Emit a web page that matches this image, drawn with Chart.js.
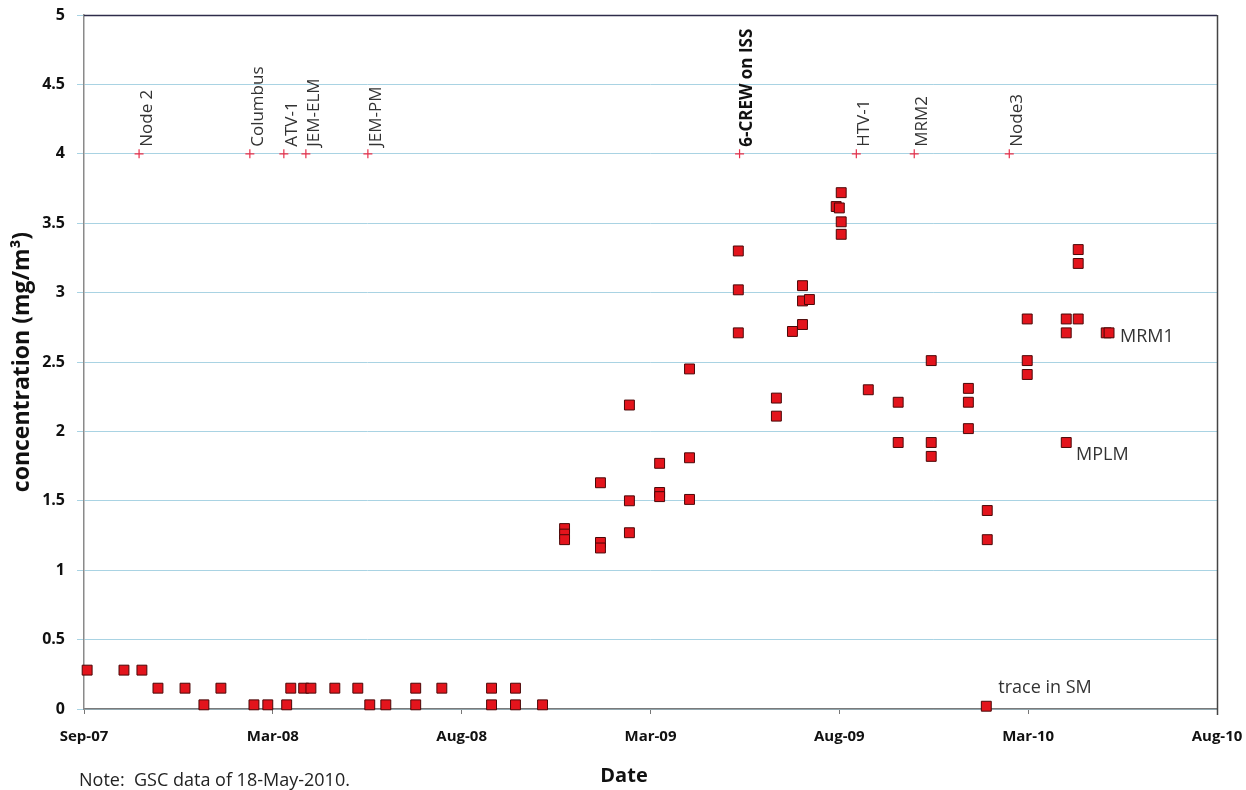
<!DOCTYPE html>
<html><head><meta charset="utf-8">
<script src="https://cdn.jsdelivr.net/npm/chart.js@4/dist/chart.umd.min.js"></script>
<style>html,body{margin:0;padding:0;background:#fff}</style>
</head><body>
<canvas id="c" width="1246" height="790"></canvas>
<script>
// x values: months after Sep-07 (axis ticks every 6 units)
const tickLabels = ['Sep-07','Mar-08','Aug-08','Mar-09','Aug-09','Mar-10','Aug-10'];

const sampleMonths = [
  0.10, 1.27, 1.84,
  2.35, 3.21, 4.35, 6.57, 6.98, 7.21, 7.97, 8.70, 10.54, 11.37, 12.95, 13.71,
  3.81, 5.40, 5.84, 6.44, 9.08, 9.59, 10.54, 12.95, 13.71, 14.57,
  15.27, 15.27, 15.27,
  16.41, 16.41, 16.41,
  17.33, 17.33, 17.33,
  18.29, 18.29, 18.29,
  19.24, 19.24, 19.24,
  20.79, 20.79, 20.79,
  22.00, 22.00,
  22.51,
  22.83, 22.83, 22.83,
  23.05,
  23.90, 24.00,
  24.06, 24.06, 24.06,
  24.92,
  25.87, 25.87,
  26.92, 26.92, 26.92,
  28.10, 28.10, 28.10,
  28.70, 28.70,
  28.67,
  29.97, 29.97, 29.97,
  31.21, 31.21, 31.21,
  31.59, 31.59, 31.59,
  32.48, 32.57
];
const sampleConc = [
  0.28, 0.28, 0.28,
  0.15, 0.15, 0.15, 0.15, 0.15, 0.15, 0.15, 0.15, 0.15, 0.15, 0.15, 0.15,
  0.03, 0.03, 0.03, 0.03, 0.03, 0.03, 0.03, 0.03, 0.03, 0.03,
  1.30, 1.26, 1.22,
  1.63, 1.20, 1.16,
  2.19, 1.50, 1.27,
  1.77, 1.56, 1.53,
  2.45, 1.81, 1.51,
  3.30, 3.02, 2.71,
  2.24, 2.11,
  2.72,
  3.05, 2.94, 2.77,
  2.95,
  3.62, 3.61,
  3.72, 3.51, 3.42,
  2.30,
  2.21, 1.92,
  2.51, 1.92, 1.82,
  2.31, 2.21, 2.02,
  1.43, 1.22,
  0.02,
  2.81, 2.51, 2.41,
  2.81, 2.71, 1.92,
  3.31, 3.21, 2.81,
  2.71, 2.71
];

const eventNames = ['Node 2','Columbus','ATV-1','JEM-ELM','JEM-PM','6-CREW on ISS','HTV-1','MRM2','Node3'];
const eventMonths = [1.75, 5.27, 6.35, 7.05, 9.02, 20.83, 24.54, 26.38, 29.40];
const eventLevel = [4, 4, 4, 4, 4, 4, 4, 4, 4];
const highlightedEvent = '6-CREW on ISS';

const noteTexts = ['MRM1', 'MPLM', 'trace in SM'];
const noteMonths = [32.92, 31.52, 29.05];
const noteConc = [2.68, 1.83, 0.15];

const FONT = "'Open Sans', 'Liberation Sans', sans-serif";

const decor = {
  id: 'decor',
  afterDatasetsDraw(chart) {
    const ctx = chart.ctx, a = chart.chartArea;
    const xs = chart.scales.x, ys = chart.scales.y;
    ctx.save();
    // frame: top and right
    ctx.lineWidth = 1.5;
    ctx.strokeStyle = '#2e2c4a';
    ctx.beginPath(); ctx.moveTo(a.left, a.top + 0.5); ctx.lineTo(a.right, a.top + 0.5); ctx.stroke();
    ctx.strokeStyle = '#444';
    ctx.beginPath(); ctx.moveTo(a.right + 0.5, a.top); ctx.lineTo(a.right + 0.5, a.bottom + 6); ctx.stroke();

    // event labels
    ctx.textAlign = 'left';
    ctx.textBaseline = 'middle';
    eventNames.forEach((name, i) => {
      const px = xs.getPixelForValue(eventMonths[i]);
      const py = ys.getPixelForValue(eventLevel[i]);
      ctx.save();
      ctx.translate(px + 8, py - 7);
      ctx.rotate(-Math.PI / 2);
      ctx.font = (name === highlightedEvent ? 'bold ' : '') + '17px ' + FONT;
      ctx.fillStyle = name === highlightedEvent ? '#111' : '#333';
      ctx.fillText(name, 0, 0);
      ctx.restore();
    });

    // point annotations
    ctx.font = '18px ' + FONT;
    ctx.fillStyle = '#333';
    noteTexts.forEach((t, i) => {
      ctx.fillText(t, xs.getPixelForValue(noteMonths[i]), ys.getPixelForValue(noteConc[i]));
    });

    // axis titles
    ctx.fillStyle = '#111';
    ctx.font = 'bold 23px ' + FONT;
    ctx.save();
    ctx.translate(22, (a.top + a.bottom) / 2);
    ctx.rotate(-Math.PI / 2);
    ctx.textAlign = 'center';
    ctx.fillText('concentration (mg/m\u00B3)', 0, 0);
    ctx.restore();

    ctx.textAlign = 'center';
    ctx.font = 'bold 20px ' + FONT;
    ctx.fillText('Date', 624, 776);

    ctx.textAlign = 'left';
    ctx.font = '18px ' + FONT;
    ctx.fillStyle = '#222';
    ctx.fillText('Note:  GSC data of 18-May-2010.', 79, 781);
    ctx.restore();
  }
};

new Chart(document.getElementById('c'), {
  type: 'scatter',
  data: {
    datasets: [
      {
        label: 'events',
        data: eventMonths.map((m, i) => ({ x: m, y: eventLevel[i] })),
        pointStyle: 'cross',
        pointRadius: 4.5,
        pointBorderColor: '#e8304a',
        pointBorderWidth: 1.2,
        pointBackgroundColor: '#e8304a'
      },
      {
        label: 'samples',
        data: sampleMonths.map((m, i) => ({ x: m, y: sampleConc[i] })),
        pointStyle: 'rect',
        pointRadius: 7,
        pointBackgroundColor: '#e3141c',
        pointBorderColor: '#4a0808',
        pointBorderWidth: 1
      }
    ]
  },
  options: {
    responsive: false,
    animation: false,
    clip: false,
    layout: { padding: { left: 0, right: 29, top: 15, bottom: 0 } },
    plugins: { legend: { display: false }, tooltip: { enabled: false } },
    scales: {
      x: {
        type: 'linear',
        min: 0, max: 36,
        afterBuildTicks(s) { s.ticks = tickLabels.map((_, i) => ({ value: i * 6 })); },
        afterFit(s) { s.height = 81; s.paddingLeft = 0; s.paddingRight = 0; },
        ticks: {
          callback: (v) => tickLabels[Math.round(v / 6)],
          font: { family: FONT, size: 15, weight: 'bold' },
          color: '#111',
          padding: 14,
          maxRotation: 0,
          autoSkip: false
        },
        grid: { drawOnChartArea: false, tickLength: 5, color: '#777' },
        border: { color: '#7a7a7a', width: 1.5 }
      },
      y: {
        min: 0, max: 5,
        afterFit(s) { s.width = 84; s.paddingTop = 0; s.paddingBottom = 0; },
        ticks: {
          stepSize: 0.5,
          callback: (v) => String(v),
          font: { family: FONT, size: 16, weight: 'bold' },
          color: '#111',
          padding: 12
        },
        grid: { color: '#a9d3e3', lineWidth: 1, tickLength: 7 },
        border: { color: '#8a8a8a', width: 1.5 }
      }
    }
  },
  plugins: [decor]
});
</script>
</body></html>
